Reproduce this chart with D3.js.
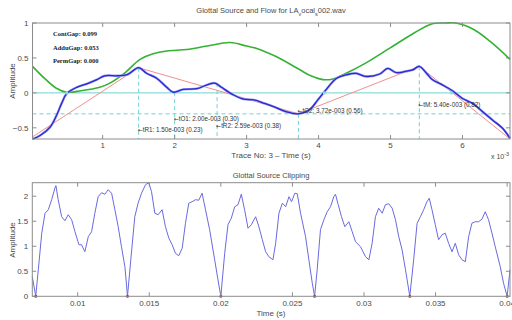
<!DOCTYPE html>
<html><head><meta charset="utf-8">
<script src="https://cdn.jsdelivr.net/npm/d3@7"></script>
<style>
body{margin:0;background:#fff;}
svg{display:block;font-family:"Liberation Sans",Arial,sans-serif;}
</style></head>
<body><svg id="c" width="512" height="320"></svg>
<script>
// ---------- TOP PLOT DATA (time in ms, x10^-3 s) ----------
const flowT = [0.025,0.2,0.35,0.5,0.7,0.96,1.1,1.3,1.52,1.7,1.89,2.17,2.45,2.77,3.0,3.13,3.41,3.74,3.9,4.06,4.2,4.34,4.66,4.99,5.30,5.58,5.75,5.91,6.15,6.38,6.66];
const flowV = [0.38,0.2,0.07,0.01,0.03,0.08,0.14,0.28,0.48,0.56,0.6,0.62,0.67,0.72,0.67,0.64,0.52,0.33,0.24,0.19,0.2,0.26,0.43,0.64,0.84,0.99,1.0,1.0,0.91,0.74,0.48];
const srcT = [0.025,0.13,0.27,0.36,0.43,0.50,0.64,0.78,0.92,1.03,1.2,1.34,1.5,1.61,1.75,1.89,1.98,2.12,2.31,2.45,2.56,2.65,2.82,2.96,3.10,3.25,3.41,3.55,3.71,3.87,3.99,4.10,4.25,4.39,4.52,4.66,4.85,4.96,5.08,5.22,5.31,5.40,5.50,5.58,5.72,5.86,6.0,6.14,6.28,6.42,6.56,6.66];
const srcV = [-0.66,-0.61,-0.49,-0.32,-0.15,-0.01,0.08,0.13,0.19,0.245,0.245,0.26,0.36,0.28,0.21,0.08,0.01,0.05,0.06,0.115,0.14,0.08,-0.03,-0.09,-0.10,-0.15,-0.21,-0.27,-0.30,-0.245,-0.10,0.04,0.21,0.26,0.28,0.235,0.27,0.35,0.29,0.31,0.33,0.38,0.28,0.19,0.115,0.03,-0.08,-0.15,-0.27,-0.39,-0.51,-0.65];
const modelT = [0.025,1.5,3.72,5.40,6.66];
const modelV = [-0.63,0.36,-0.30,0.38,-0.66];
const markT = [1.50,2.00,2.59,3.72,5.40];
const markV = [0.36,0.01,0.14,-0.30,0.38];
const markLabels = ["tR1: 1.50e-003 (0.23)","tO1: 2.00e-003 (0.30)","tR2: 2.59e-003 (0.38)","tO2: 3.72e-003 (0.56)","tM: 5.40e-003 (0.82)"];
const labelV = [-0.52,-0.365,-0.465,-0.255,-0.16];
const zeroT = [0.5,4.08,5.85];
const gapLabels = ["ContGap: 0.099","AdduGap: 0.053","PermGap: 0.000"];
const topXTicks = [1,2,3,4,5,6];
const topYTicks = [-0.5,0,0.5,1];

// ---------- BOTTOM PLOT DATA (s) ----------
const clipT = [0.00683,0.00707,0.00725,0.00749,0.00772,0.00795,0.00818,0.00841,0.00848,0.00864,0.00888,0.00911,0.00934,0.00958,0.00981,0.01009,0.01027,0.0105,0.01074,0.01097,0.0112,0.01143,0.01167,0.0119,0.01213,0.01237,0.0126,0.01283,0.01306,0.0133,0.01348,0.01371,0.01399,0.01422,0.01446,0.01474,0.01497,0.01516,0.01539,0.01562,0.0159,0.01613,0.01637,0.0166,0.01683,0.01706,0.0173,0.01753,0.01776,0.01799,0.01823,0.01846,0.01869,0.01893,0.01922,0.01957,0.0198,0.0200,0.02027,0.0205,0.02073,0.02097,0.0212,0.02143,0.02166,0.0219,0.02213,0.02243,0.02266,0.0229,0.02313,0.02336,0.02364,0.02383,0.02406,0.0243,0.02453,0.02476,0.02494,0.02517,0.02534,0.02557,0.02592,0.02615,0.02639,0.02655,0.02673,0.02696,0.0272,0.02743,0.02766,0.02789,0.02801,0.0282,0.02843,0.02866,0.02894,0.02918,0.02941,0.02976,0.03011,0.03034,0.03057,0.0308,0.03103,0.03127,0.0315,0.03173,0.03197,0.0322,0.03243,0.03266,0.0329,0.0332,0.03347,0.03371,0.03394,0.03417,0.0344,0.03456,0.03475,0.03498,0.03521,0.03545,0.03568,0.03591,0.03615,0.03638,0.03661,0.03685,0.03708,0.03731,0.03754,0.03777,0.038,0.03824,0.03847,0.0387,0.03894,0.03917,0.03952,0.03975,0.0400,0.0402];
const clipV = [0.39,0,0.53,1.26,1.66,1.73,1.93,2.16,2.21,1.93,1.59,1.51,1.63,1.53,1.29,1.03,1.03,0.89,1.19,1.29,1.66,1.99,2.07,2.04,2.13,2.06,1.73,1.39,0.99,0.59,0,0.73,1.59,1.86,2.06,2.23,2.27,2.09,1.66,1.63,1.73,1.39,1.16,1.03,0.86,0.81,0.96,1.46,1.86,1.89,1.93,1.92,2.06,1.73,1.33,0.73,0.33,0,0.86,1.43,1.56,1.79,1.83,2.04,1.73,1.36,1.43,1.59,1.39,1.13,0.89,0.79,0.73,1.06,1.66,1.86,1.79,1.99,1.89,2.06,2.05,1.66,1.19,0.73,0.26,0,0.53,1.33,1.53,1.69,1.79,1.99,2.04,1.83,1.59,1.39,1.49,1.29,1.09,0.99,0.79,0.73,1.06,1.59,1.76,1.66,1.83,1.85,1.76,1.53,1.19,0.93,0.53,0,0.73,1.46,1.59,1.73,1.89,1.96,1.73,1.43,1.13,1.23,1.26,1.06,0.89,1.06,0.83,0.73,0.69,1.19,1.46,1.49,1.49,1.54,1.69,1.53,1.26,0.99,0.59,0.26,0,0.53];
const clipMinT = [0.00707,0.01348,0.0200,0.02655,0.0332,0.0400];
const botXTicks = [0.01,0.015,0.02,0.025,0.03,0.035,0.04];
const botYTicks = [0,0.5,1,1.5,2];

const svg = d3.select("#c");
const axisCol = "#8c8c8c", txtCol = "#4a4a4a";

function box(g, x, y, xt, yt, xfmt, yfmt, xoff){
  const [x0,x1]=x.range(), [y0,y1]=y.range();
  g.append("rect").attr("x",x0).attr("y",y1).attr("width",x1-x0).attr("height",y0-y1)
   .attr("fill","none").attr("stroke",axisCol).attr("stroke-width",1);
  xt.forEach(v=>{
    const px=x(v);
    g.append("line").attr("x1",px).attr("x2",px).attr("y1",y0).attr("y2",y0-4).attr("stroke",axisCol);
    g.append("line").attr("x1",px).attr("x2",px).attr("y1",y1).attr("y2",y1+4).attr("stroke",axisCol);
    g.append("text").attr("x",px).attr("y",y0+xoff).attr("text-anchor","middle").attr("font-size",8).attr("fill",txtCol).text(xfmt(v));
  });
  yt.forEach(v=>{
    const py=y(v);
    g.append("line").attr("x1",x0).attr("x2",x0+4).attr("y1",py).attr("y2",py).attr("stroke",axisCol);
    g.append("line").attr("x1",x1).attr("x2",x1-4).attr("y1",py).attr("y2",py).attr("stroke",axisCol);
    g.append("text").attr("x",x0-4).attr("y",py+3).attr("text-anchor","end").attr("font-size",8).attr("fill",txtCol).text(yfmt(v));
  });
}

// ---------- TOP ----------
const xT = d3.scaleLinear().domain([0.025,6.66]).range([32.5,510]);
const yT = d3.scaleLinear().domain([-0.66,1]).range([139,23]);
const gT = svg.append("g");

gT.append("line").attr("x1",xT.range()[0]).attr("x2",xT.range()[1]).attr("y1",yT(0)).attr("y2",yT(0)).attr("stroke","#6fd3d3").attr("stroke-width",1);
gT.append("line").attr("x1",xT.range()[0]).attr("x2",xT.range()[1]).attr("y1",yT(-0.3)).attr("y2",yT(-0.3)).attr("stroke","#6fd3d3").attr("stroke-dasharray","4,3");
markT.forEach((t,i)=>{
  gT.append("line").attr("x1",xT(t)).attr("x2",xT(t)).attr("y1",yT(markV[i])).attr("y2",yT(-0.66)).attr("stroke","#6fd3d3").attr("stroke-dasharray","4,3");
});

const lineT = d3.line().x(d=>xT(d[0])).y(d=>yT(d[1]));
gT.append("path").attr("d",lineT.curve(d3.curveCatmullRom)(flowT.map((t,i)=>[t,flowV[i]]))).attr("fill","none").attr("stroke","#33b233").attr("stroke-width",1.6);
gT.append("path").attr("d",d3.line().x(d=>xT(d[0])).y(d=>yT(d[1]))(modelT.map((t,i)=>[t,modelV[i]]))).attr("fill","none").attr("stroke","#f09090").attr("stroke-width",1);
const srcPts = srcT.map((t,i)=>[t,srcV[i]]);
gT.append("path").attr("d",lineT.curve(d3.curveCatmullRom)(srcPts)).attr("fill","none").attr("stroke","#9a9af5").attr("stroke-width",2.4);
gT.append("path").attr("d",lineT.curve(d3.curveCatmullRom)(srcPts)).attr("fill","none").attr("stroke","#2a2acc").attr("stroke-width",1.3);
zeroT.forEach(t=>gT.append("circle").attr("cx",xT(t)).attr("cy",yT(0)).attr("r",1.6).attr("fill","#7fe0e0"));

markLabels.forEach((s,i)=>{
  const tx = gT.append("text").attr("x",xT(markT[i])-1).attr("y",yT(labelV[i])+2.5).attr("font-size",6.3).attr("fill","#333");
  tx.append("tspan").attr("font-family","'DejaVu Sans',sans-serif").attr("font-size",6).text("\u2190");
  tx.append("tspan").text(s);
});
gapLabels.forEach((s,i)=>{
  gT.append("text").attr("x",53).attr("y",36+i*13.5).attr("font-size",6.5).attr("font-weight","bold").attr("font-family","'Liberation Serif',serif").attr("fill","#222").text(s);
});
box(gT,xT,yT,topXTicks,topYTicks,d=>d3.format("d")(d),d=>d===0?"0":(d===1?"1":d3.format(".1f")(d)),9);

// titles & labels
const t1 = svg.append("text").attr("x",271).attr("y",13).attr("text-anchor","middle").attr("font-size",7.5).attr("fill",txtCol);
t1.append("tspan").text("Glottal Source and Flow for LA");
t1.append("tspan").attr("dy",2.5).attr("font-size",5.5).text("v");
t1.append("tspan").attr("dy",-2.5).text("ocal");
t1.append("tspan").attr("dy",2.5).attr("font-size",5.5).text("s");
t1.append("tspan").attr("dy",-2.5).text("002.wav");
svg.append("text").attr("x",271).attr("y",157.5).attr("text-anchor","middle").attr("font-size",8).attr("fill",txtCol).text("Trace No: 3 \u2013 Time (s)");
const xm = svg.append("text").attr("x",491).attr("y",159).attr("font-size",7).attr("fill",txtCol);
xm.append("tspan").text("x 10");
xm.append("tspan").attr("dy",-3).attr("font-size",5.5).text("-3");
svg.append("text").attr("transform","translate(15,81) rotate(-90)").attr("text-anchor","middle").attr("font-size",8).attr("fill",txtCol).text("Amplitude");

// ---------- BOTTOM ----------
const xB = d3.scaleLinear().domain([0.00683,0.0402]).range([32.3,510]);
const yB = d3.scaleLinear().domain([0,2.27]).range([296.3,182.7]);
const gB = svg.append("g");
gB.append("path").attr("d",d3.line().x(d=>xB(d[0])).y(d=>yB(d[1]))(clipT.map((t,i)=>[t,clipV[i]]))).attr("fill","none").attr("stroke","#6a6ae0").attr("stroke-width",1);
clipMinT.forEach(t=>gB.append("circle").attr("cx",xB(t)).attr("cy",yB(0)).attr("r",1.5).attr("fill","#e02020"));
box(gB,xB,yB,botXTicks,botYTicks,d=>String(d),d=>d===0?"0":String(d),10);
svg.append("text").attr("x",271).attr("y",178).attr("text-anchor","middle").attr("font-size",7.5).attr("fill",txtCol).text("Glottal Source Clipping");
svg.append("text").attr("x",271).attr("y",316).attr("text-anchor","middle").attr("font-size",8).attr("fill",txtCol).text("Time (s)");
svg.append("text").attr("transform","translate(15,240) rotate(-90)").attr("text-anchor","middle").attr("font-size",8).attr("fill",txtCol).text("Amplitude");
</script></body></html>
